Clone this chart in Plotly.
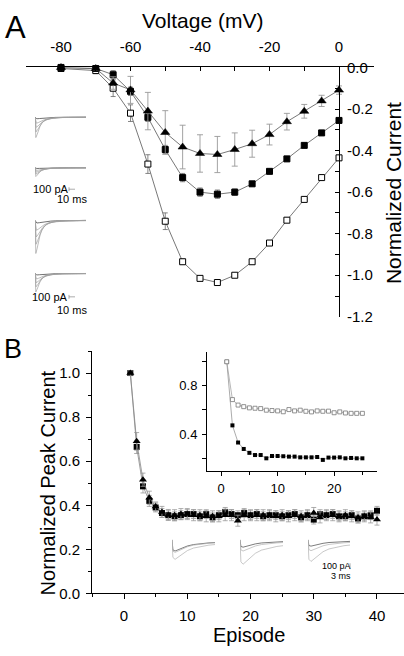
import plotly.graph_objects as go

W, H = 404, 656
FONT = "Liberation Sans, Arial, sans-serif"

# ---------------- Panel A : normalized I-V relation ----------------
voltage = [-80, -70, -65, -60, -55, -50, -45, -40, -35, -30, -25, -20, -15, -10, -5, 0]
iv_open = [-0.005, -0.015, -0.10, -0.22, -0.465, -0.74, -0.935, -1.015, -1.035, -1.0,
           -0.935, -0.845, -0.735, -0.635, -0.53, -0.435]
iv_open_err = [0.01, 0.015, 0.04, 0.04, 0.045, 0.04, 0.012, 0.01, 0.01, 0.01,
               0.01, 0.01, 0.01, 0.01, 0.01, 0.01]
iv_filled = [0.0, -0.005, -0.035, -0.115, -0.24, -0.395, -0.53, -0.60, -0.61, -0.60,
             -0.56, -0.50, -0.44, -0.375, -0.315, -0.255]
iv_filled_err = [0.005, 0.01, 0.02, 0.02, 0.02, 0.02, 0.02, 0.02, 0.02, 0.015,
                 0.01, 0.01, 0.01, 0.01, 0.01, 0.01]
iv_tri = [0.0, -0.005, -0.075, -0.108, -0.21, -0.313, -0.383, -0.414, -0.419, -0.395,
          -0.367, -0.323, -0.261, -0.211, -0.161, -0.109]
iv_tri_err = [0.005, 0.01, 0.03, 0.065, 0.09, 0.105, 0.105, 0.09, 0.087, 0.08,
              0.065, 0.05, 0.04, 0.033, 0.027, 0.02]
a_xticks = [-80, -60, -40, -20, 0]
a_xticktext = ["-80", "-60", "-40", "-20", "0"]
a_yticks = [0.0, -0.2, -0.4, -0.6, -0.8, -1.0, -1.2]
a_yticktext = ["0.0", "-0.2", "-0.4", "-0.6", "-0.8", "-1.0", "-1.2"]

# ---------------- Panel B : peak current vs episode ----------------
episode = list(range(1, 41))
peak_square = [1.0, 0.665, 0.486, 0.42, 0.39, 0.365, 0.355, 0.35, 0.355, 0.36,
               0.36, 0.35, 0.36, 0.345, 0.355, 0.37, 0.36, 0.355, 0.365, 0.355,
               0.36, 0.35, 0.355, 0.355, 0.35, 0.355, 0.36, 0.345, 0.355, 0.335,
               0.36, 0.355, 0.36, 0.35, 0.35, 0.355, 0.34, 0.35, 0.355, 0.375]
peak_square_err = [0.01, 0.03, 0.03, 0.025, 0.02] + [0.02] * 35
peak_tri = [1.0, 0.69, 0.516, 0.434, 0.395, 0.37, 0.356, 0.355, 0.36, 0.36,
            0.355, 0.355, 0.35, 0.35, 0.35, 0.355, 0.355, 0.33, 0.355, 0.355,
            0.355, 0.355, 0.355, 0.35, 0.355, 0.35, 0.355, 0.35, 0.355, 0.365,
            0.345, 0.355, 0.355, 0.35, 0.355, 0.35, 0.345, 0.35, 0.345, 0.335]
peak_tri_err = [0.01, 0.04, 0.03, 0.03, 0.02] + [0.025] * 35

inset_episode = list(range(1, 26))
inset_open = [0.996, 0.685, 0.64, 0.627, 0.617, 0.614, 0.611, 0.598, 0.595, 0.592,
              0.585, 0.603, 0.592, 0.598, 0.589, 0.584, 0.592, 0.589, 0.59, 0.577,
              0.584, 0.575, 0.572, 0.572, 0.572]
inset_filled = [0.996, 0.473, 0.332, 0.279, 0.247, 0.229, 0.229, 0.202, 0.221, 0.221,
                0.219, 0.216, 0.216, 0.21, 0.21, 0.21, 0.213, 0.189, 0.208, 0.208,
                0.21, 0.202, 0.205, 0.202, 0.202]

# ---------------- example current traces (insets) ----------------
trace_t_A = [0, 0.8, 2, 3.5, 5, 7, 9, 12, 16, 22, 30, 40, 50]          # ms
trace_shape_A = [0, -1.0, -0.86, -0.62, -0.44, -0.28, -0.18, -0.1, -0.05, -0.02, -0.008, -0.003, 0]
trace_frac_A = [0.08, 0.3, 0.5, 0.72, 1.0]
trace_stretch_A = [2.2, 1.8, 1.5, 1.25, 1.0]
inset_A_peak = [210, 90, 340, 190]                                       # pA

trace_t_B = [0, 0.3, 1.0, 2, 3.5, 5, 7, 9.5, 12, 14]                     # ms
trace_shape_B = [0, -0.9, -1.0, -0.88, -0.7, -0.55, -0.42, -0.33, -0.27, -0.24]
inset_B_peaks = [[160, 180, 280], [105, 160, 350], [90, 155, 310]]       # pA


def pxx(x):
    return x / W


def pxy(y):
    return 1 - y / H


fig = go.Figure()

line_col = "#555555"

# Panel A series
fig.add_trace(go.Scatter(
    x=voltage, y=iv_open, mode="lines+markers", xaxis="x", yaxis="y",
    line=dict(color=line_col, width=0.8),
    marker=dict(symbol="square", size=6, color="white", line=dict(color="black", width=1)),
    error_y=dict(type="data", array=iv_open_err, color="#666666", thickness=0.8, width=2.5),
    cliponaxis=False))
fig.add_trace(go.Scatter(
    x=voltage, y=iv_filled, mode="lines+markers", xaxis="x", yaxis="y",
    line=dict(color=line_col, width=0.8),
    marker=dict(symbol="square", size=6, color="black", line=dict(color="black", width=1)),
    error_y=dict(type="data", array=iv_filled_err, color="#666666", thickness=0.8, width=2.5),
    cliponaxis=False))
fig.add_trace(go.Scatter(
    x=voltage, y=iv_tri, mode="lines+markers", xaxis="x", yaxis="y",
    line=dict(color=line_col, width=0.8),
    marker=dict(symbol="triangle-up", size=8, color="black", line=dict(color="black", width=0.5)),
    error_y=dict(type="data", array=iv_tri_err, color="#999999", thickness=0.9, width=3),
    cliponaxis=False))

# Panel B main series
fig.add_trace(go.Scatter(
    x=episode, y=peak_square, mode="lines+markers", xaxis="x2", yaxis="y2",
    line=dict(color="#888888", width=0.8),
    marker=dict(symbol="square", size=6, color="black"),
    error_y=dict(type="data", array=peak_square_err, color="#999999", thickness=0.8, width=2.5),
    cliponaxis=False))
fig.add_trace(go.Scatter(
    x=episode, y=peak_tri, mode="lines+markers", xaxis="x2", yaxis="y2",
    line=dict(color="#888888", width=0.8),
    marker=dict(symbol="triangle-up", size=7, color="black"),
    error_y=dict(type="data", array=peak_tri_err, color="#999999", thickness=0.8, width=2.5),
    cliponaxis=False))

# Panel B inset series
fig.add_trace(go.Scatter(
    x=inset_episode, y=inset_filled, mode="lines+markers", xaxis="x3", yaxis="y3",
    line=dict(color="#888888", width=0.7),
    marker=dict(symbol="square", size=4, color="black"), cliponaxis=False))
fig.add_trace(go.Scatter(
    x=inset_episode, y=inset_open, mode="lines+markers", xaxis="x3", yaxis="y3",
    line=dict(color="#999999", width=0.7),
    marker=dict(symbol="square", size=4, color="white", line=dict(color="#777777", width=0.8)),
    cliponaxis=False))

hidden = dict(visible=False, showgrid=False, zeroline=False, fixedrange=True)
layout_axes = {}

# Panel A trace insets
inset_A_base = [111, 163, 217, 271.5]
for i, (base, peak) in enumerate(zip(inset_A_base, inset_A_peak)):
    n = 4 + i
    xa, ya = "x%d" % n, "y%d" % n
    for k, (frac, st) in enumerate(zip(trace_frac_A, trace_stretch_A)):
        fig.add_trace(go.Scatter(
            x=[t * st for t in trace_t_A] + [50],
            y=[s * frac * peak for s in trace_shape_A] + [0],
            mode="lines", xaxis=xa, yaxis=ya,
            line=dict(color="#333333" if k == 0 else "#a0a0a0", width=0.7),
            cliponaxis=True))
    layout_axes["xaxis%d" % n] = dict(hidden, domain=[pxx(35), pxx(86)], range=[0, 50], anchor=ya)
    layout_axes["yaxis%d" % n] = dict(hidden, domain=[pxy(base + peak / 10 + 2), pxy(base - 2)],
                                      range=[-(peak + 20), 20], anchor=xa)

# Panel B trace insets
inset_B_x = [(172, 215), (240, 283), (308, 350)]
for i, ((x0, x1), peaks) in enumerate(zip(inset_B_x, inset_B_peaks)):
    n = 8 + i
    xa, ya = "x%d" % n, "y%d" % n
    for k, peak in enumerate(peaks):
        fig.add_trace(go.Scatter(
            x=trace_t_B, y=[s * peak for s in trace_shape_B], mode="lines",
            xaxis=xa, yaxis=ya,
            line=dict(color="#444444" if k == 0 else "#b0b0b0", width=0.7)))
    layout_axes["xaxis%d" % n] = dict(hidden, domain=[pxx(x0), pxx(x1)], range=[0, 14], anchor=ya)
    layout_axes["yaxis%d" % n] = dict(hidden, domain=[pxy(571), pxy(543)], range=[-364, 28], anchor=xa)

tickfont = dict(family=FONT, size=15, color="black")

fig.update_layout(
    width=W, height=H, margin=dict(l=0, r=0, t=0, b=0),
    paper_bgcolor="white", plot_bgcolor="white", showlegend=False,
    font=dict(family=FONT, color="black"),
    xaxis=dict(domain=[26.25 / W, 373.75 / W], range=[-90, 10], side="top", anchor="y",
               showline=True, linecolor="black", linewidth=1, showgrid=False, zeroline=False,
               tickmode="array", tickvals=a_xticks, ticktext=a_xticktext,
               ticks="inside", ticklen=4, tickcolor="black", tickfont=tickfont,
               ticklabelstandoff=8,
               minor=dict(tickvals=[-90, -70, -50, -30, -10, 10], ticks="inside", ticklen=4,
                          tickcolor="black")),
    yaxis=dict(domain=[pxy(316), pxy(60)], range=[-1.2, 0], anchor="free", position=339 / W,
               side="right", showline=True, linecolor="black", linewidth=1, showgrid=False,
               zeroline=False, tickmode="array", tickvals=a_yticks, ticktext=a_yticktext,
               ticks="inside", ticklen=4, tickcolor="black", tickfont=tickfont,
               ticklabelstandoff=4,
               minor=dict(tickvals=[-0.1, -0.3, -0.5, -0.7, -0.9, -1.1], ticks="inside",
                          ticklen=4, tickcolor="black")),
    xaxis2=dict(domain=[92 / W, 1.0], range=[-5.06, 44.27], anchor="y2",
                showline=True, linecolor="black", linewidth=1, showgrid=False, zeroline=False,
                tickmode="linear", tick0=0, dtick=10, ticks="outside", ticklen=5,
                tickcolor="black", tickfont=tickfont, ticklabelstandoff=4,
                minor=dict(dtick=5, tick0=0, ticks="outside", ticklen=3, tickcolor="black")),
    yaxis2=dict(domain=[pxy(600), pxy(351.1)], range=[0, 1.1], anchor="x2",
                showline=True, linecolor="black", linewidth=1, showgrid=False, zeroline=False,
                tickmode="linear", tick0=0, dtick=0.2, tickformat=".1f", ticks="outside",
                ticklen=5, tickcolor="black", tickfont=tickfont, ticklabelstandoff=3,
                minor=dict(dtick=0.1, tick0=0, ticks="outside", ticklen=3, tickcolor="black")),
    xaxis3=dict(domain=[207 / W, 376.5 / W], range=[-2.5, 27.5], anchor="y3",
                showline=True, linecolor="black", linewidth=1, showgrid=False, zeroline=False,
                tickmode="linear", tick0=0, dtick=10, ticks="outside", ticklen=4,
                tickcolor="black", tickfont=dict(family=FONT, size=13, color="black"),
                ticklabelstandoff=2,
                minor=dict(dtick=5, tick0=0, ticks="outside", ticklen=3, tickcolor="black")),
    yaxis3=dict(domain=[pxy(474), pxy(351.7)], range=[0.1, 1.08], anchor="x3",
                showline=True, linecolor="black", linewidth=1, showgrid=False, zeroline=False,
                tickmode="linear", tick0=0.4, dtick=0.4, tickformat=".1f", ticks="outside",
                ticklen=4, tickcolor="black", tickfont=dict(family=FONT, size=13, color="black"),
                ticklabelstandoff=2,
                minor=dict(dtick=0.2, tick0=0.2, ticks="outside", ticklen=4, tickcolor="black")),
    **layout_axes,
)


def note(text, x, y, size, angle=0, color="black"):
    fig.add_annotation(text=text, x=pxx(x), y=pxy(y), xref="paper", yref="paper",
                       showarrow=False, textangle=angle, xanchor="center", yanchor="middle",
                       font=dict(family=FONT, size=size, color=color))


note("A", 15, 19, 31)
note("B", 13, 349, 27)
note("Voltage (mV)", 202, 12, 21)
note("Normalized Current", 393, 189, 21, angle=-90)
note("Normalized Peak Current", 48, 487, 20, angle=-90)
note("Episode", 249, 643, 20)
note("100 pA", 51, 185, 11)
note("10 ms", 72, 195, 11)
note("100 pA", 50, 295.5, 11)
note("10 ms", 72, 308.5, 11)
note("100 pA", 336, 572, 9)
note("3 ms", 341, 582, 9)

# tiny scale bars
for yb in (185, 295.5):
    fig.add_shape(type="line", xref="paper", yref="paper", x0=pxx(69), x1=pxx(75),
                  y0=pxy(yb), y1=pxy(yb), line=dict(color="#888888", width=0.7))
    fig.add_shape(type="line", xref="paper", yref="paper", x0=pxx(69), x1=pxx(69),
                  y0=pxy(yb - 2), y1=pxy(yb + 2), line=dict(color="#888888", width=0.7))
fig.add_shape(type="line", xref="paper", yref="paper", x0=pxx(350), x1=pxx(350),
              y0=pxy(569), y1=pxy(575), line=dict(color="#888888", width=0.7))

fig.write_html("out.html", config={"displayModeBar": False},
               post_script="document.body.style.margin='0';document.body.style.overflow='hidden';")
